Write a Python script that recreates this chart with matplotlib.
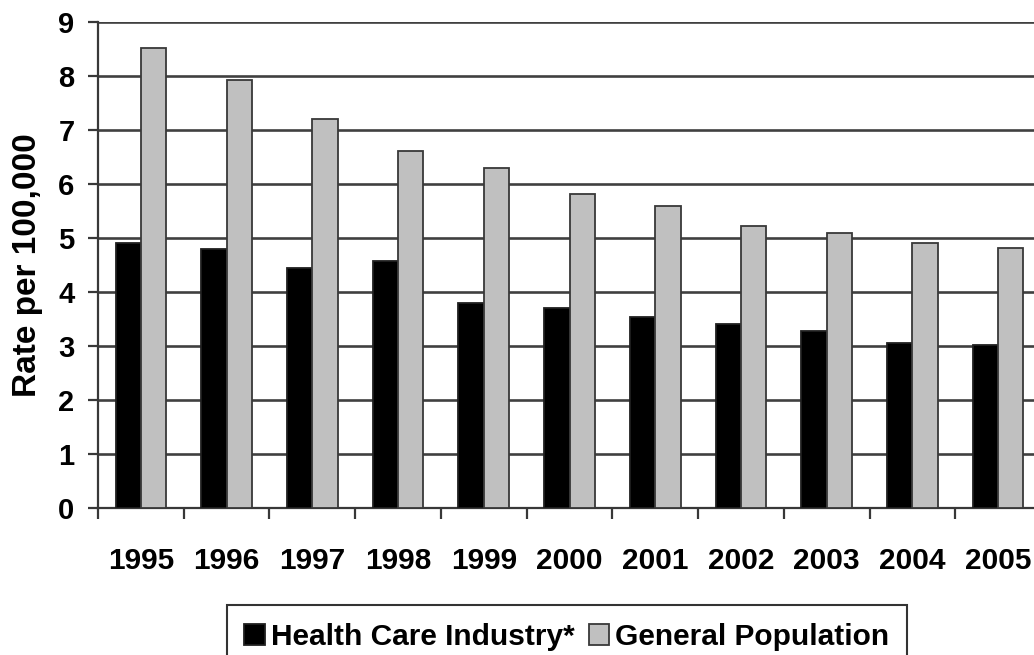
import numpy as np
import matplotlib
matplotlib.use("Agg")
import matplotlib.pyplot as plt

plt.rcParams['font.family'] = ['Liberation Sans', 'DejaVu Sans']
plt.rcParams['font.weight'] = 'bold'

years = ['1995', '1996', '1997', '1998', '1999', '2000',
         '2001', '2002', '2003', '2004', '2005']
health_care = [4.9, 4.8, 4.45, 4.57, 3.79, 3.7, 3.54, 3.4, 3.27, 3.05, 3.01]
general_pop = [8.51, 7.92, 7.2, 6.61, 6.3, 5.81, 5.59, 5.22, 5.09, 4.91, 4.81]

fig = plt.figure(figsize=(10.34, 6.55), dpi=100)
# axes runs a bit past the right edge, like the original
ax = fig.add_axes([98 / 1034, 147 / 655, 943 / 1034, 486 / 655])

x = np.arange(len(years))
w = 0.295
ax.bar(x - w / 2, health_care, w, color='black', edgecolor='#202020',
       linewidth=1.3, label='Health Care Industry*', zorder=3)
ax.bar(x + w / 2, general_pop, w, color='#c0c0c0', edgecolor='#383838',
       linewidth=1.3, label='General Population', zorder=3)

ax.set_xlim(-0.5, len(years) - 0.5)
ax.set_ylim(0, 9)
ax.set_yticks(range(10))
ax.yaxis.grid(True, color='#404040', linewidth=1.9, zorder=0)
ax.set_axisbelow(True)

for s in ['top', 'right']:
    ax.spines[s].set_visible(False)
for s in ['left', 'bottom']:
    ax.spines[s].set_color('#383838')
    ax.spines[s].set_linewidth(1.6)

ax.set_xticks(x)
ax.set_xticklabels(years, fontsize=21.5, fontweight='bold')
ax.set_xticks(np.arange(-0.5, len(years)), minor=True)
ax.tick_params(axis='x', which='major', length=0, pad=28)
ax.tick_params(axis='x', which='minor', length=8, width=1.6, color='#383838', direction='out')
ax.tick_params(axis='y', length=7, width=1.6, color='#383838', pad=10, labelsize=21)
for t in ax.get_yticklabels():
    t.set_fontweight('bold')

ax.set_ylabel('Rate per 100,000', fontsize=24, fontweight='bold')
ax.yaxis.set_label_coords(-0.058, 0.5)

leg = fig.legend(loc='upper center', bbox_to_anchor=(567 / 1034, 50 / 655), ncol=2,
                 fontsize=21.5, frameon=True, fancybox=False, edgecolor='black',
                 handlelength=0.7, handleheight=0.75, handletextpad=0.2,
                 columnspacing=0.45, borderpad=0.6, borderaxespad=0)
leg.get_frame().set_linewidth(1.5)
for t in leg.get_texts():
    t.set_fontweight('bold')

fig.savefig('out.png', dpi=100)
